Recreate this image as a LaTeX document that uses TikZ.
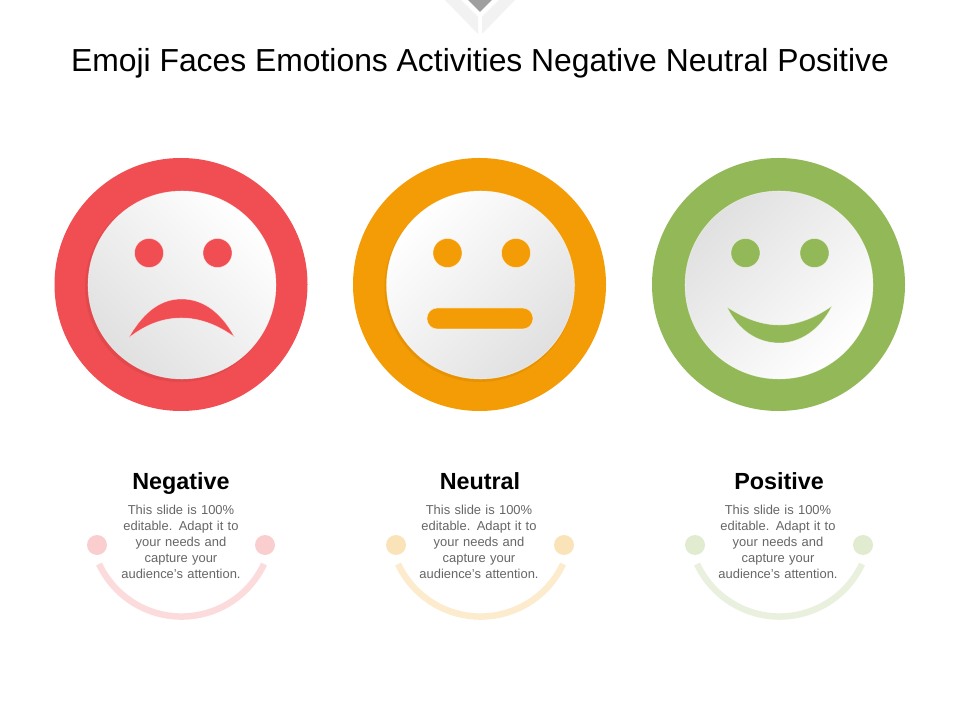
\documentclass[tikz,border=0pt]{standalone}
\usepackage{tikz}
\usepackage{fontspec}
\setmainfont{Liberation Sans}
\definecolor{negred}{HTML}{F04E52}
\definecolor{neuorange}{HTML}{F49C06}
\definecolor{posgreen}{HTML}{93B858}
\definecolor{bodygray}{HTML}{666666}
\tikzset{
  headtext/.style={font=\fontsize{16.6}{19}\selectfont\bfseries,text=black,anchor=base},
  bodytext/.style={font=\fontsize{9.2}{11.3}\selectfont,text=bodygray,align=center,text width=130pt},
  smileline/.style={line width=4.6pt,opacity=0.2},
  facedisc/.style={top color=white,bottom color=gray!24,shading angle=#1},
  discshadow/.style={fill=black,opacity=0.06},
  facemark/.style={fill=#1,draw=white,draw opacity=0.55,line width=0.4pt},
}
\begin{document}
\begin{tikzpicture}[x=0.025cm,y=-0.025cm]
\useasboundingbox (0,0) rectangle (960,720);
\fill[white] (0,0) rectangle (960,720);

% top mark
\fill[gray!10] (445,0) -- (461,0) -- (478,17) -- (478,34) -- cycle;
\fill[gray!10] (515,0) -- (499,0) -- (482,17) -- (482,34) -- cycle;
\fill[gray!75] (468,0) -- (492,0) -- (480,12) -- cycle;

\node[font=\fontsize{22.65}{28}\selectfont,anchor=base] (title) at (480,72) {Emoji Faces Emotions Activities Negative Neutral Positive};

% negative face
\fill[negred] (181,284.5) circle (126.5);
\fill[discshadow] (180,287) circle (95);
\shade[facedisc=-45] (182,285) circle (94);
\draw[white,opacity=0.5,line width=0.4pt] (182,285) circle (94);
\draw[facemark=negred] (149,253) circle (14.5);
\draw[facemark=negred] (217.5,253) circle (14.5);
\draw[facemark=negred] (128.5,338) .. controls (145,309) and (163,299) .. (181.5,299) .. controls (201,299) and (220,310) .. (234.5,337) .. controls (218,325) and (200,318) .. (181.5,318) .. controls (162,318) and (145,325) .. cycle;

% neutral face
\fill[neuorange] (479.5,284.5) circle (126.5);
\fill[discshadow] (479.5,287) circle (95);
\shade[facedisc=45] (480.5,285) circle (94);
\draw[white,opacity=0.5,line width=0.4pt] (480.5,285) circle (94);
\draw[facemark=neuorange] (447.5,253) circle (14.5);
\draw[facemark=neuorange] (516,253) circle (14.5);
\draw[facemark=neuorange,rounded corners=0.26cm] (427,308) rectangle (533,329);

% positive face
\fill[posgreen] (778.5,284.5) circle (126.5);
\shade[facedisc=-135] (779,285) circle (94);
\draw[white,opacity=0.5,line width=0.4pt] (779,285) circle (94);
\draw[facemark=posgreen] (745.5,253) circle (14.5);
\draw[facemark=posgreen] (814.5,253) circle (14.5);
\draw[facemark=posgreen] (727,307) .. controls (745,319) and (762,325) .. (779.5,325) .. controls (797,325) and (815,318) .. (832,306) .. controls (820,330) and (800,343) .. (779.5,343) .. controls (757,343) and (738,330) .. cycle;

% labels
\node[headtext] (neghead) at (181,490) {Negative};
\node[headtext] (neuhead) at (480,490) {Neutral};
\node[headtext] (poshead) at (779,490) {Positive};
\node[bodytext] (negbody) at (181,542) {This slide is 100\%\\ editable. Adapt it to\\ your needs and\\ capture your\\ audience's attention.};
\node[bodytext] (neubody) at (479,542) {This slide is 100\%\\ editable. Adapt it to\\ your needs and\\ capture your\\ audience's attention.};
\node[bodytext] (posbody) at (778,542) {This slide is 100\%\\ editable. Adapt it to\\ your needs and\\ capture your\\ audience's attention.};

% small smiles
\fill[negred,opacity=0.28] (97,545) circle (10);
\fill[negred,opacity=0.28] (265,545) circle (10);
\draw[negred,smileline] (264,564) arc[start angle=25,end angle=155,radius=91];
\fill[neuorange,opacity=0.28] (396,545) circle (10);
\fill[neuorange,opacity=0.28] (564,545) circle (10);
\draw[neuorange,smileline] (563,564) arc[start angle=25,end angle=155,radius=91];
\fill[posgreen,opacity=0.28] (695,545) circle (10);
\fill[posgreen,opacity=0.28] (863,545) circle (10);
\draw[posgreen,smileline] (862,564) arc[start angle=25,end angle=155,radius=91];
\end{tikzpicture}
\end{document}
